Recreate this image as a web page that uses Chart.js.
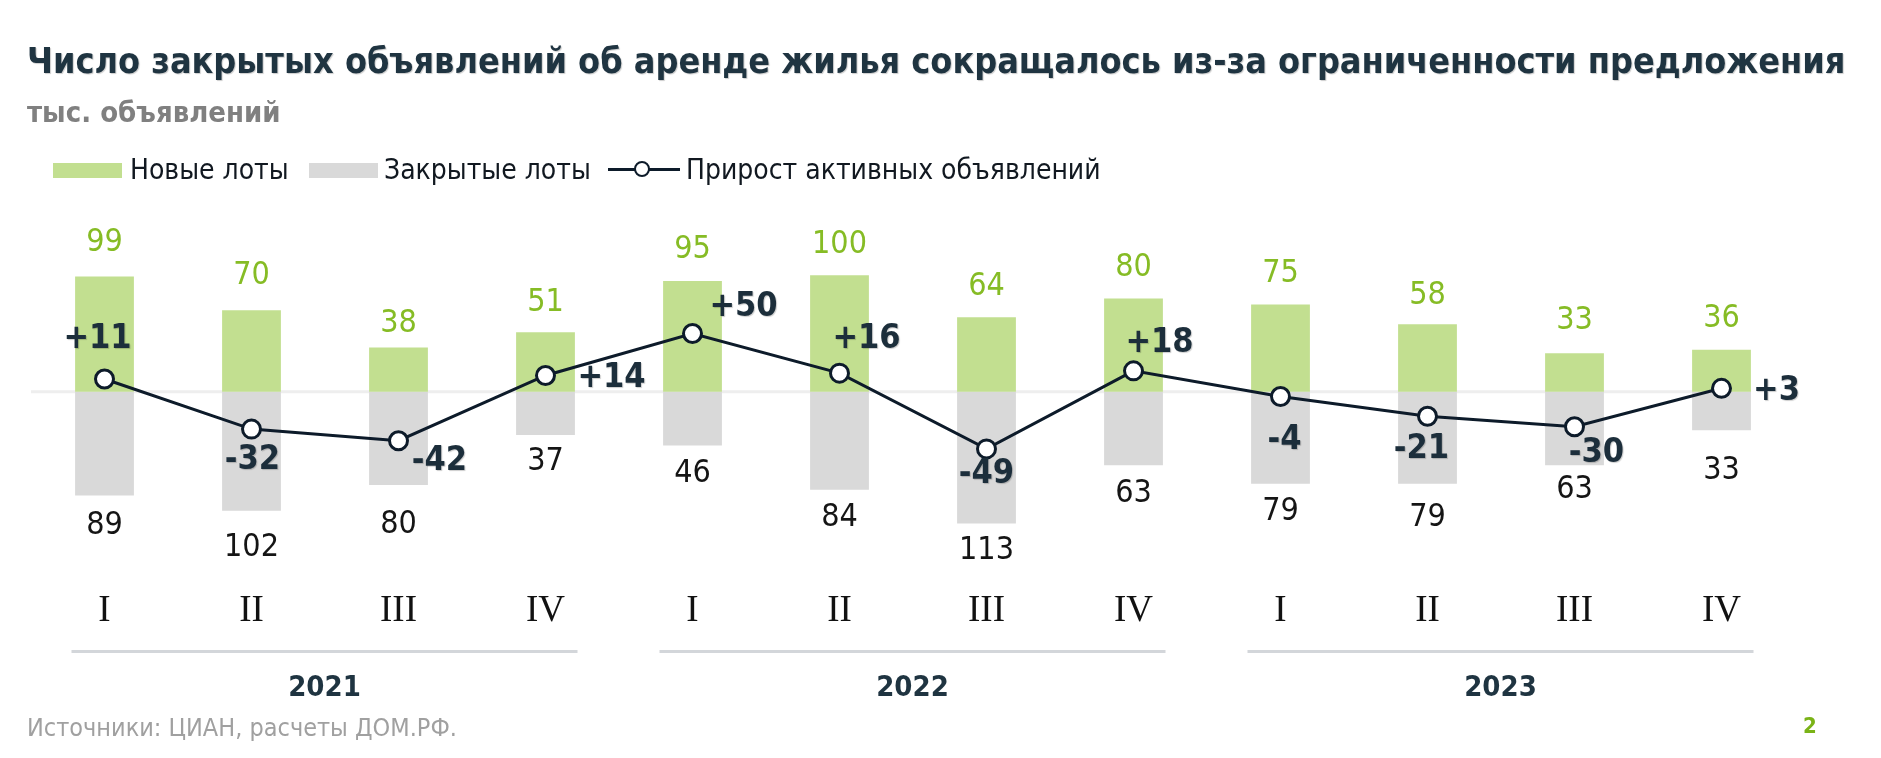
<!DOCTYPE html>
<html>
<head>
<meta charset="utf-8">
<script src="https://cdn.jsdelivr.net/npm/chart.js@4.4.1/dist/chart.umd.min.js"></script>
<style>
  body { margin: 0; background: #fff; }
  #wrap { position: relative; width: 1881px; height: 758px; overflow: hidden;
          font-family: "DejaVu Sans Condensed", "DejaVu Sans", sans-serif; }
  #myChart { position: absolute; left: 0; top: 0; }
  .txt { position: absolute; white-space: nowrap; }
  .title { left: 27px; top: 40px; font-size: 35.7px; line-height: 42px; font-weight: bold; color: #1f3441;
           text-shadow: 1px 1px 1px rgba(0,0,0,0.2); }
  .sub { left: 27px; top: 96px; font-size: 29px; line-height: 32px; font-weight: bold; color: #808080; }
  .leg { top: 153px; font-size: 28px; line-height: 34px; color: #111820; }
  .box { position: absolute; top: 163px; width: 69px; height: 15px; }
  .src { left: 27px; top: 713px; font-size: 25px; line-height: 30px; color: #a0a0a0; }
  .page { left: 1803px; top: 713px; font-size: 22px; line-height: 26px; font-weight: bold; color: #7ab317; }
</style>
</head>
<body>
<div id="wrap">
  <canvas id="myChart" width="1881" height="758"></canvas>
  <div class="txt title">Число закрытых объявлений об аренде жилья сокращалось из-за ограниченности предложения</div>
  <div class="txt sub">тыс. объявлений</div>

  <div class="box" style="left:53px;background:#c2df90"></div>
  <div class="txt leg" style="left:130px">Новые лоты</div>
  <div class="box" style="left:309px;background:#d9d9d9"></div>
  <div class="txt leg" style="left:384px">Закрытые лоты</div>
  <div style="position:absolute;left:608px;top:168px;width:72px;height:3px;background:#0d1b2a"></div>
  <div style="position:absolute;left:634px;top:161px;width:12px;height:12px;border:2.5px solid #0d1b2a;border-radius:50%;background:#fff"></div>
  <div class="txt leg" style="left:686px">Прирост активных объявлений</div>

  <div class="txt src">Источники: ЦИАН, расчеты ДОМ.РФ.</div>
  <div class="txt page">2</div>
</div>
<script>
  var quarters = ["I", "II", "III", "IV", "I", "II", "III", "IV", "I", "II", "III", "IV"];
  var years = ["2021", "2022", "2023"];
  var newLots = [99, 70, 38, 51, 95, 100, 64, 80, 75, 58, 33, 36];
  var closedLots = [89, 102, 80, 37, 46, 84, 113, 63, 79, 79, 63, 33];
  var activeGrowth = [11, -32, -42, 14, 50, 16, -49, 18, -4, -21, -30, 3];

  // label placement (px): gap above green bars, gap below grey bars, shift from line points
  var newGap = [34, 35, 24, 30, 31, 31, 31, 31, 31, 29, 33, 31];
  var closedGap = [30, 37, 40, 27, 28, 28, 27, 28, 28, 34, 24, 40];
  var growthLabelShift = [[-7, -40], [1, 31], [41, 20], [66, 3], [51, -26], [27, -34],
                          [0, 25], [26, -28], [4, 44], [-6, 33], [22, 26], [55, 3]];

  var fontFamily = '"DejaVu Sans Condensed", "DejaVu Sans", sans-serif';
  Chart.defaults.font.family = fontFamily;

  // value labels for bars and line
  var labelPlugin = {
    id: 'labels',
    afterDatasetsDraw: function(chart) {
      var ctx = chart.ctx;
      ctx.save();
      ctx.textAlign = 'center';
      ctx.textBaseline = 'middle';

      var greenMeta = chart.getDatasetMeta(1);
      ctx.font = '32px ' + fontFamily;
      ctx.fillStyle = '#86bc25';
      greenMeta.data.forEach(function(bar, i) {
        ctx.fillText(newLots[i], bar.x, bar.y - newGap[i]);
      });

      var greyMeta = chart.getDatasetMeta(2);
      ctx.fillStyle = '#151515';
      greyMeta.data.forEach(function(bar, i) {
        ctx.fillText(closedLots[i], bar.x, bar.y + closedGap[i]);
      });

      var lineMeta = chart.getDatasetMeta(0);
      ctx.font = 'bold 34px ' + fontFamily;
      ctx.fillStyle = '#1c2e3b';
      ctx.shadowColor = 'rgba(0,0,0,0.2)';
      ctx.shadowOffsetX = 1;
      ctx.shadowOffsetY = 1;
      ctx.shadowBlur = 1;
      lineMeta.data.forEach(function(pt, i) {
        var v = activeGrowth[i];
        var s = growthLabelShift[i];
        ctx.fillText((v > 0 ? '+' : '') + v, pt.x + s[0], pt.y + s[1]);
      });
      ctx.restore();
    }
  };

  // zero line under the bars, year brackets under the quarters
  var framePlugin = {
    id: 'frame',
    beforeDatasetsDraw: function(chart) {
      var ctx = chart.ctx;
      var y0 = chart.scales.y.getPixelForValue(0);
      var lastBar = chart.getDatasetMeta(1).data[newLots.length - 1];
      ctx.save();
      ctx.strokeStyle = '#eeeeee';
      ctx.lineWidth = 3;
      ctx.beginPath();
      ctx.moveTo(chart.chartArea.left, y0);
      ctx.lineTo(lastBar.x + lastBar.width / 2, y0);
      ctx.stroke();
      ctx.restore();
    },
    afterDraw: function(chart) {
      var ctx = chart.ctx;
      var xs = chart.scales.x;
      var lineY = chart.chartArea.bottom + 85;
      ctx.save();
      years.forEach(function(yr, g) {
        var x1 = xs.getPixelForValue(g * 4) - 33;
        var x2 = xs.getPixelForValue(g * 4 + 3) + 32;
        ctx.strokeStyle = '#d3d6da';
        ctx.lineWidth = 3;
        ctx.beginPath();
        ctx.moveTo(x1, lineY);
        ctx.lineTo(x2, lineY);
        ctx.stroke();
        ctx.font = 'bold 29px ' + fontFamily;
        ctx.fillStyle = '#1f3441';
        ctx.textAlign = 'center';
        ctx.textBaseline = 'middle';
        ctx.fillText(yr, (x1 + x2) / 2, lineY + 37);
      });
      ctx.restore();
    }
  };

  new Chart("myChart", {
    type: "bar",
    data: {
      labels: quarters,
      datasets: [{
        type: "line",
        label: "Прирост активных объявлений",
        data: activeGrowth,
        borderColor: "#0d1b2a",
        borderWidth: 3,
        pointRadius: 9,
        pointBorderWidth: 3,
        pointBackgroundColor: "#ffffff",
        pointBorderColor: "#0d1b2a",
        tension: 0,
        order: 0
      }, {
        label: "Новые лоты",
        data: newLots,
        backgroundColor: "#c2df90",
        grouped: false,
        barPercentage: 0.4,
        categoryPercentage: 1,
        order: 1
      }, {
        label: "Закрытые лоты",
        data: closedLots.map(function(v) { return -v; }),
        backgroundColor: "#d9d9d9",
        grouped: false,
        barPercentage: 0.4,
        categoryPercentage: 1,
        order: 2
      }]
    },
    options: {
      responsive: false,
      animation: false,
      devicePixelRatio: 1,
      layout: { padding: { left: 31, right: 86, top: 217, bottom: 103 } },
      plugins: {
        legend: { display: false },
        tooltip: { enabled: false }
      },
      scales: {
        x: {
          grid: { display: false, drawTicks: false },
          border: { display: false },
          ticks: {
            padding: 22,
            color: "#111111",
            font: { family: '"Liberation Serif", serif', size: 37 }
          }
        },
        y: {
          display: false,
          min: -150,
          max: 150
        }
      }
    },
    plugins: [framePlugin, labelPlugin]
  });
</script>
</body>
</html>
